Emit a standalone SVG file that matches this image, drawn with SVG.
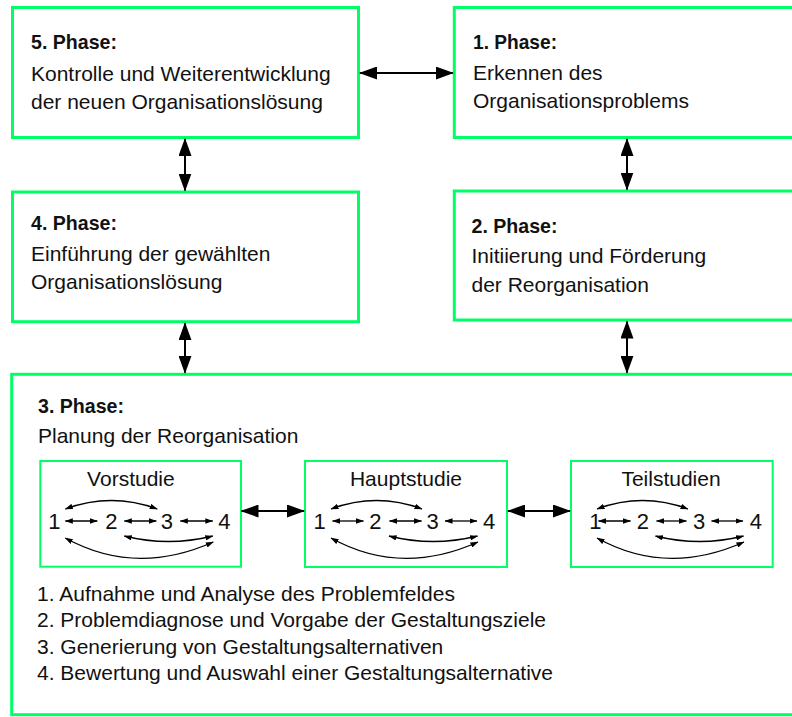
<svg xmlns="http://www.w3.org/2000/svg" width="792" height="717" viewBox="0 0 792 717">
<defs>
<style>
.box{fill:#fff;stroke:#00ff66;stroke-width:3}
.sub{fill:none;stroke:#00ff66;stroke-width:2}
text{font-family:"Liberation Sans",Arial,sans-serif;font-size:21px;fill:#111}
.b{font-weight:bold}
.dg{font-size:22px;text-anchor:middle}
.t{text-anchor:middle}
.con{fill:none;stroke:#000;stroke-width:2;marker-start:url(#ah);marker-end:url(#ah)}
.sc{fill:none;stroke:#000;stroke-width:1.3;marker-start:url(#as);marker-end:url(#as)}
</style>
<marker id="ah" viewBox="0 0 18 13" refX="17" refY="6.5" markerWidth="18" markerHeight="13" markerUnits="userSpaceOnUse" orient="auto-start-reverse"><path d="M0,0 L18,6.5 L0,13 Z" fill="#000"/></marker>
<marker id="as" viewBox="0 0 8 5.5" refX="7.5" refY="2.75" markerWidth="8" markerHeight="5.5" markerUnits="userSpaceOnUse" orient="auto-start-reverse"><path d="M0,0 L8,2.75 L0,5.5 Z" fill="#000"/></marker>
</defs>
<rect width="792" height="717" fill="#fff"/>

<g id="phase5">
<rect class="box" x="12.5" y="7.5" width="346" height="130"/>
<text class="b" x="31" y="49" textLength="86" lengthAdjust="spacingAndGlyphs">5. Phase:</text>
<text x="31" y="81">Kontrolle und Weiterentwicklung</text>
<text x="31" y="109">der neuen Organisationslösung</text>
</g>

<g id="phase1">
<rect class="box" x="454.3" y="7.5" width="345" height="130"/>
<text class="b" x="473" y="49" textLength="84" lengthAdjust="spacingAndGlyphs">1. Phase:</text>
<text x="473" y="80">Erkennen des</text>
<text x="473" y="108">Organisationsproblems</text>
</g>

<g id="phase4">
<rect class="box" x="12.5" y="192" width="346" height="129.7"/>
<text class="b" x="31" y="230" textLength="86" lengthAdjust="spacingAndGlyphs">4. Phase:</text>
<text x="31" y="260.5">Einführung der gewählten</text>
<text x="31" y="289">Organisationslösung</text>
</g>

<g id="phase2">
<rect class="box" x="454.3" y="191" width="345" height="129"/>
<text class="b" x="471.5" y="233" textLength="86" lengthAdjust="spacingAndGlyphs">2. Phase:</text>
<text x="471.5" y="263">Initiierung und Förderung</text>
<text x="471.5" y="292">der Reorganisation</text>
</g>

<g id="phase3">
<rect class="box" x="11.7" y="374.3" width="790" height="340.4"/>
<text class="b" x="38" y="413" textLength="86" lengthAdjust="spacingAndGlyphs">3. Phase:</text>
<text x="38" y="443">Planung der Reorganisation</text>
<text x="37" y="600.5">1. Aufnahme und Analyse des Problemfeldes</text>
<text x="37" y="627">2. Problemdiagnose und Vorgabe der Gestaltungsziele</text>
<text x="37" y="653.5">3. Generierung von Gestaltungsalternativen</text>
<text x="37" y="680">4. Bewertung und Auswahl einer Gestaltungsalternative</text>
</g>

<g id="vorstudie" transform="translate(40.3,461)">
<rect class="sub" x="0" y="0" width="200.7" height="105.7"/>
<text class="t" x="90.6" y="25">Vorstudie</text>
<text class="dg" x="14" y="68">1</text>
<text class="dg" x="71" y="68">2</text>
<text class="dg" x="126.7" y="68">3</text>
<text class="dg" x="184" y="68">4</text>
<g class="inner">
<path class="sc" d="M25,60 H57"/>
<path class="sc" d="M84,60 H116"/>
<path class="sc" d="M140,60 H172.5"/>
<path class="sc" d="M25,48 Q71,31 117,48"/>
<path class="sc" d="M84,75 Q128,86 172.5,75"/>
<path class="sc" d="M25,77 Q95,115.6 173,81"/>
</g>
</g>

<g id="hauptstudie" transform="translate(305,461)">
<rect class="sub" x="0" y="0" width="202" height="106"/>
<text class="t" x="101" y="25">Hauptstudie</text>
<text class="dg" x="14.7" y="68">1</text>
<text class="dg" x="70.3" y="68">2</text>
<text class="dg" x="127.5" y="68">3</text>
<text class="dg" x="184" y="68">4</text>
<g class="inner">
<path class="sc" d="M27.5,60 H58.5"/>
<path class="sc" d="M84.5,60 H116.5"/>
<path class="sc" d="M140,60 H172"/>
<path class="sc" d="M26,48 Q71.5,31 117,48"/>
<path class="sc" d="M84,75 Q128,86 172.5,75"/>
<path class="sc" d="M26,77 Q95.5,115.6 173,81"/>
</g>
</g>

<g id="teilstudien" transform="translate(571,461)">
<rect class="sub" x="0" y="0" width="201.7" height="106"/>
<text class="t" x="100" y="25">Teilstudien</text>
<text class="dg" x="24.3" y="68">1</text>
<text class="dg" x="71.8" y="68">2</text>
<text class="dg" x="128" y="68">3</text>
<text class="dg" x="184.8" y="68">4</text>
<g class="inner">
<path class="sc" d="M27.5,60 H59.5"/>
<path class="sc" d="M85.5,60 H115.5"/>
<path class="sc" d="M140.5,60 H172"/>
<path class="sc" d="M26,48 Q71.5,31 117,48"/>
<path class="sc" d="M84.5,75 Q128.5,86 172.5,75"/>
<path class="sc" d="M26,77 Q95.5,115.6 173,81"/>
</g>
</g>

<g id="connectors">
<path class="con" d="M360,73 H452.8"/>
<path class="con" d="M185,139 V190.5"/>
<path class="con" d="M185,323.2 V372.8"/>
<path class="con" d="M627,139 V189.5"/>
<path class="con" d="M627,321.5 V372.8"/>
<path class="con" d="M241.5,511 H304"/>
<path class="con" d="M508,511 H570"/>
</g>
</svg>
